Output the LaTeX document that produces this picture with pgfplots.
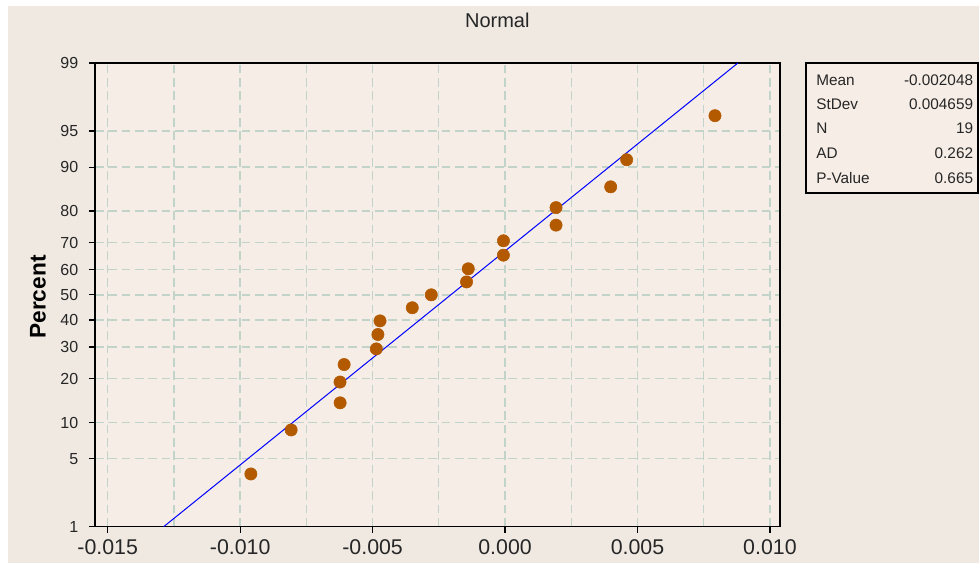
\documentclass[border=0pt]{standalone}
\usepackage{pgfplots}
\pgfplotsset{compat=1.18}
\usepackage{fontspec}
\setmainfont{Liberation Sans}
\definecolor{outerbg}{HTML}{EFE9E2}
\definecolor{plotbg}{HTML}{F5EDE6}
\definecolor{gridc}{HTML}{C2D3C9}
\definecolor{ptc}{HTML}{B35A00}
\begin{document}
\begin{tikzpicture}
\fill[white] (0pt,0pt) rectangle (734.25pt,-422.25pt);
\fill[outerbg] (6pt,-4.5pt) rectangle (734.25pt,-422.25pt);
\begin{axis}[
  at={(71.25pt,-47.25pt)}, anchor=north west,
  scale only axis, width=513.75pt, height=347.75pt,
  xmin=-0.01548, xmax=0.01038,
  ymin=-2.3263, ymax=2.3263,
  axis background/.style={fill=plotbg},
  axis line style={black, line width=1pt},
  /pgf/number format/assume math mode=true,
  scaled x ticks=false,
  xtick={-0.015,-0.010,-0.005,0,0.005,0.010},
  xticklabels={-0.015,-0.010,-0.005,0.000,0.005,0.010},
  minor xtick={-0.0125,-0.0075,-0.0025,0.0025,0.0075},
  ytick={-2.3263,-1.6449,-1.2816,-0.8416,-0.5244,-0.2533,0,0.2533,0.5244,0.8416,1.2816,1.6449,2.3263},
  yticklabels={1,5,10,20,30,40,50,60,70,80,90,95,99},
  tick align=outside, major tick length=4.5pt, minor tick length=0pt,
  xtick pos=bottom, ytick pos=left,
  tick style={black, line width=0.9pt},
  grid=both,
  major grid style={gridc, line width=1pt, dash pattern=on 6.5pt off 3.5pt},
  minor grid style={gridc, line width=1pt, dash pattern=on 6.5pt off 3.5pt},
  xticklabel style={font=\fontsize{16}{18}\selectfont, text=black!85, yshift=-1.5pt},
  yticklabel style={font=\fontsize{12}{14}\selectfont, text=black!85, xshift=-4.5pt},
  clip=false,
]
\addplot[blue, line width=0.75pt] coordinates {(-0.012886,-2.3263) (0.008790,2.3263)};
\addplot[only marks, mark=*, mark size=4.6pt, color=ptc, mark options={fill=ptc, draw=ptc}] coordinates {
(-0.009596,-1.7975)
(-0.008075,-1.3555)
(-0.006226,-1.0838)
(-0.006230,-0.8751)
(-0.006075,-0.6994)
(-0.004860,-0.5424)
(-0.004800,-0.3980)
(-0.004720,-0.2614)
(-0.003502,-0.1296)
(-0.002785,0)
(-0.001453,0.1296)
(-0.001389,0.2614)
(-0.000063,0.3980)
(-0.000060,0.5424)
(0.001925,0.6994)
(0.001925,0.8751)
(0.003988,1.0838)
(0.004591,1.3555)
(0.007925,1.7975)
};
\end{axis}
\node[font=\fontsize{15}{17}\selectfont, text=black!85] at (373pt,-15.5pt) {Normal};
\node[font=\fontsize{17}{19}\selectfont\bfseries, rotate=90] at (28.5pt,-222.75pt) {Percent};
\draw[black, line width=1pt, fill=plotbg] (604.5pt,-47.25pt) rectangle (733.5pt,-144.75pt);
\begin{scope}[every node/.style={font=\fontsize{11.5}{13}\selectfont, text=black!85, inner sep=0pt}]
\node[anchor=west] at (612pt,-60pt) {Mean};
\node[anchor=west] at (612pt,-78.25pt) {StDev};
\node[anchor=west] at (612pt,-96.25pt) {N};
\node[anchor=west] at (612pt,-115pt) {AD};
\node[anchor=west] at (612pt,-133.75pt) {P-Value};
\node[anchor=east] at (730pt,-60pt) {-0.002048};
\node[anchor=east] at (730pt,-78.25pt) {0.004659};
\node[anchor=east] at (730pt,-96.25pt) {19};
\node[anchor=east] at (730pt,-115pt) {0.262};
\node[anchor=east] at (730pt,-133.75pt) {0.665};
\end{scope}
\end{tikzpicture}
\end{document}
